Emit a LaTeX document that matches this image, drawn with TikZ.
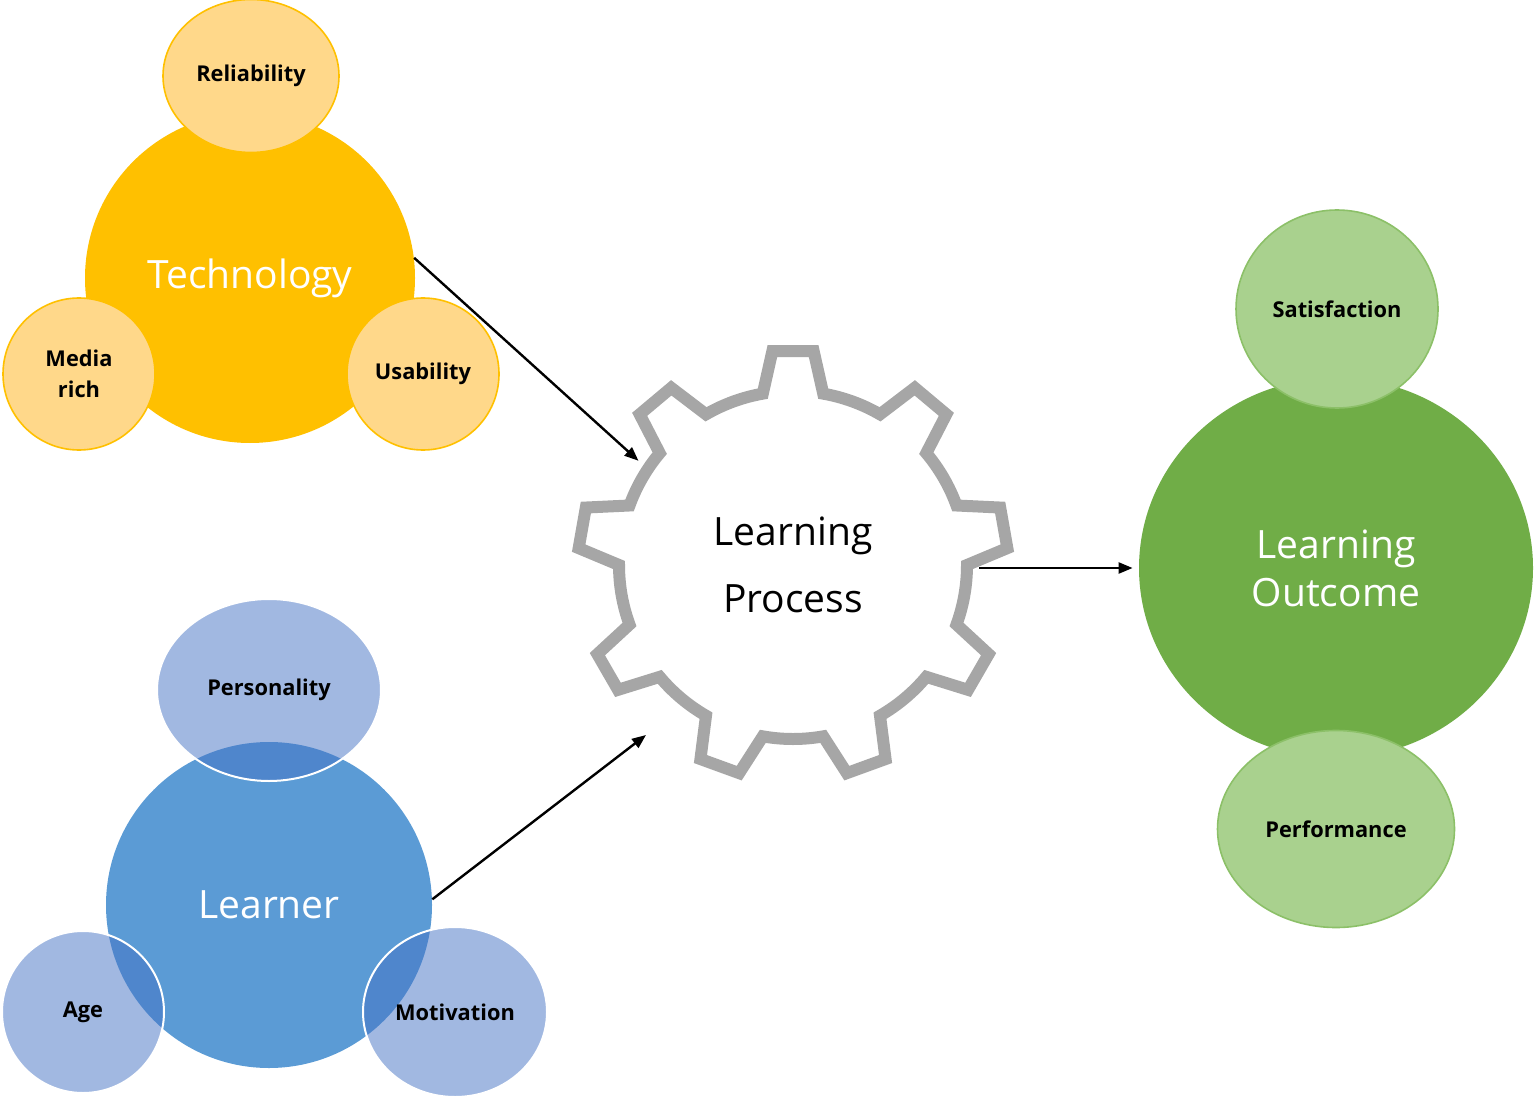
\documentclass[tikz,border=0pt]{standalone}
\usepackage{fontspec}
\setmainfont{Open Sans}
\usepackage{tikz}
\usetikzlibrary{arrows.meta,positioning,shapes.geometric}
\definecolor{techgold}{HTML}{FFC000}
\definecolor{techlight}{HTML}{FFD88A}
\definecolor{learnblue}{HTML}{5B9BD5}
\definecolor{learnlight}{HTML}{4472C4}
\definecolor{outgreen}{HTML}{70AD47}
\definecolor{outlight}{HTML}{A9D18E}
\definecolor{outedge}{HTML}{8CC068}
\definecolor{geargray}{HTML}{A6A6A6}
\tikzset{
  bigtext/.style={font=\fontsize{19.5}{24}\selectfont,text=white,align=center,inner sep=0pt},
  smalltext/.style={font=\fontsize{10.9}{15.5}\selectfont\bfseries,text=black,align=center,inner sep=0pt},
  techbig/.style={circle,fill=techgold,bigtext},
  techsmall/.style={ellipse,fill=techlight,draw=techgold,line width=0.8pt,smalltext},
  learnbig/.style={circle,fill=learnblue,bigtext},
  learnsmall/.style={ellipse,fill=learnlight,fill opacity=0.5,text opacity=1,draw=white,line width=1pt,smalltext},
  outbig/.style={ellipse,fill=outgreen,bigtext},
  outsmall/.style={ellipse,fill=outlight,draw=outedge,line width=0.8pt,smalltext},
  gearline/.style={draw=geargray,line width=6pt,fill=white,line join=miter},
}
\begin{document}
\begin{tikzpicture}[x=0.5pt,y=-0.5pt]
\useasboundingbox (0,0) rectangle (1535,1101);
% technology
\node[techbig,minimum size=165pt] (tech) at (250,278) {Technology};
\node[techsmall,minimum width=88pt,minimum height=76.5pt] (reliab) at (251,76) {Reliability};
\node[techsmall,minimum width=76pt,minimum height=76pt] (media) at (79,374) {Media\\rich};
\node[techsmall,minimum width=76pt,minimum height=76pt] (usab) at (423,374) {Usability};
% learner
\node[learnbig,minimum size=163pt] (learner) at (269,905) {Learner};
\node[learnsmall,minimum width=112pt,minimum height=91pt] (person) at (269,690) {Personality};
\node[learnsmall,minimum width=81pt,minimum height=81pt] (age) at (83,1012) {Age};
\node[learnsmall,minimum width=92pt,minimum height=85pt] (motiv) at (455,1012) {Motivation};
% gear
\draw[gearline] (793,565) ++(-100:174)
  \foreach \a in {-90,-50,...,230}{
    -- ([shift={(793,565)}]{\a-10}:174) -- ([shift={(793,565)}]{\a-5.5}:215)
    -- ([shift={(793,565)}]{\a+5.5}:215) -- ([shift={(793,565)}]{\a+10}:174)
    arc[start angle=\a+10,end angle=\a+30,radius=174]
  } -- cycle;
\node[circle,minimum size=186pt,inner sep=0pt,align=center,
  font=\fontsize{19.5}{33.5}\selectfont] (proc) at (793,565) {Learning\\Process};
\coordinate (procsw) at (646,735);
% outcome
\node[outbig,minimum width=197pt,minimum height=190pt] (outcome) at (1336,568) {Learning\\Outcome};
\node[outsmall,minimum width=101pt,minimum height=99pt] (satis) at (1337,309) {Satisfaction};
\node[outsmall,minimum width=118.5pt,minimum height=98.5pt] (perf) at (1336,829) {Performance};
\path[->,line width=1.2pt,>={Triangle[length=7pt,width=5.5pt]}]
(tech.7) edge (proc.146)
(learner.2) edge (procsw)
(outcome.west -| proc.east) edge[shorten >=3pt] (outcome.west);
\end{tikzpicture}
\end{document}
